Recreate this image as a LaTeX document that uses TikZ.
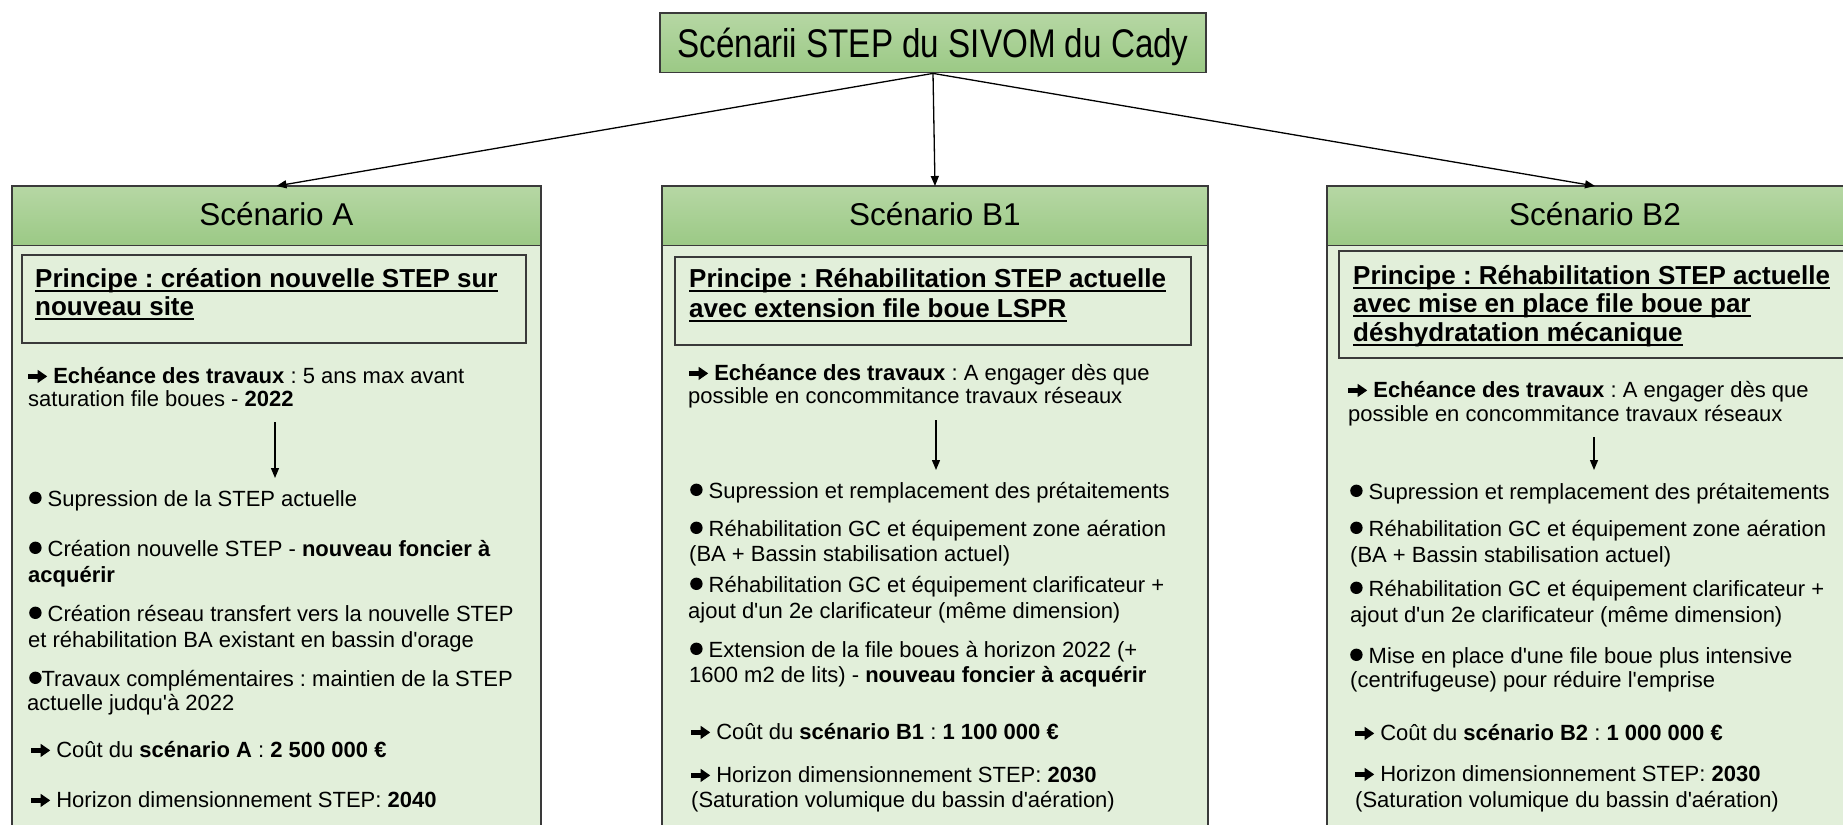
\documentclass[tikz,border=0pt]{standalone}
\usepackage{fontspec}
\setmainfont{Liberation Sans}
\newfontfamily\bodyf{Liberation Sans}
\newfontfamily\narrowf[FakeStretch=0.83]{Liberation Sans}
\usetikzlibrary{arrows.meta}
\definecolor{hdrtop}{HTML}{B6D7A4}
\definecolor{hdrbot}{HTML}{9BC985}
\definecolor{bodyc}{HTML}{E2EFDA}
\definecolor{bordc}{HTML}{3A3A3A}
\newcommand{\rarrow}{\tikz[x=1pt,y=1pt,baseline=0pt]\fill (0,4.2) -- (9.5,4.2) -- (9.5,0) -- (19,6.6) -- (9.5,13.2) -- (9.5,9) -- (0,9) -- cycle;}
\newcommand{\bul}{\tikz[x=1pt,y=1pt,baseline=0pt]\fill (6.2,8.2) circle (6.2);}
\newcommand{\prl}[3]{\node[prtext] (#1) at (#2) {#3};
  \draw[uline] ([yshift=-3.5pt]#1.base west) -- ([yshift=-3.5pt]#1.base east);}
\begin{document}
\frenchspacing
\begin{tikzpicture}[x=1pt,y=-1pt,
  panel/.style={draw=bordc, fill=bodyc, line width=1.4pt},
  hdrbox/.style={draw=bordc, line width=1.4pt, top color=hdrtop, bottom color=hdrbot, minimum height=59pt, inner sep=0pt, anchor=north},
  hdrtext/.style={anchor=base, inner sep=0pt, font=\bodyf\fontsize{31.5}{34}\selectfont},
  prbox/.style={draw=bordc, line width=1.4pt, fill=bodyc},
  prtext/.style={anchor=base west, inner sep=0pt, font=\bodyf\fontsize{26}{29}\selectfont\bfseries},
  ln/.style={anchor=base west, inner sep=0pt, font=\bodyf\fontsize{22}{25}\selectfont},
  conn/.style={line width=1.3pt, -{Triangle[length=10pt,width=8pt]}},
  uline/.style={line width=2pt}
]
\useasboundingbox (0,0) rectangle (1843,824);
\clip (0,0) rectangle (1843,824);
\fill[white] (0,0) rectangle (1843,824);

% panels
\draw[panel] (12,186) rectangle (541,900);
\draw[panel] (662,186) rectangle (1208,900);
\draw[panel] (1327,186) rectangle (1863,900);

% title and headers
\node[hdrbox, minimum width=546pt, minimum height=59.5pt] (T) at (933,12.5) {};
\node[anchor=base, inner sep=0pt, font=\narrowf\fontsize{40}{42}\selectfont] (Tt) at (933,58) {Scénarii STEP du SIVOM du Cady};

\node[hdrbox, minimum width=529pt] (hA) at (276.5,186) {};
\node[hdrtext] (tA) at (276.5,225) {Scénario A};
\node[hdrbox, minimum width=546pt] (hB1) at (935,186) {};
\node[hdrtext] (tB1) at (935,225) {Scénario B1};
\node[hdrbox, minimum width=536pt] (hB2) at (1595,186) {};
\node[hdrtext] (tB2) at (1595,225) {Scénario B2};

\draw[conn] (T.south) -- (hA.north);
\draw[conn] (T.south) -- (hB1.north);
\draw[conn] (T.south) -- (hB2.north);

% principe boxes
\draw[prbox] (22,255) rectangle (526,343);
\draw[prbox] (675,257) rectangle (1191,345);
\draw[prbox] (1339,251) rectangle (1870,358);

% ---------- Scenario A
\prl{pa1}{35,287}{Principe : création nouvelle STEP sur}
\prl{pa2}{35,315}{nouveau site}
\node[ln] (a1) at (28,383) {\rarrow\ \textbf{Echéance des travaux} : 5 ans max avant};
\node[ln] (a2) at (28,406) {saturation file boues - \textbf{2022}};
\coordinate (aS) at (275,422); \coordinate (aE) at (275,478);
\draw[conn] (aS) -- (aE);
\node[ln] (a3) at (29,506) {\bul\ Supression de la STEP actuelle};
\node[ln] (a4) at (29,556) {\bul\ Création nouvelle STEP - \textbf{nouveau foncier à}};
\node[ln] (a5) at (28,582) {\textbf{acquérir}};
\node[ln] (a6) at (29,621) {\bul\ Création réseau transfert vers la nouvelle STEP};
\node[ln] (a7) at (28,647) {et réhabilitation BA existant en bassin d'orage};
\node[ln] (a8) at (29,686) {\bul Travaux complémentaires : maintien de la STEP};
\node[ln] (a9) at (27,710) {actuelle judqu'à 2022};
\node[ln] (a10) at (31,757) {\rarrow\ Coût du \textbf{scénario A} : \textbf{2 500 000 €}};
\node[ln] (a11) at (31,807) {\rarrow\ Horizon dimensionnement STEP: \textbf{2040}};

% ---------- Scenario B1
\prl{pb1}{689,287}{Principe : Réhabilitation STEP actuelle}
\prl{pb2}{689,317}{avec extension file boue LSPR}
\node[ln] (b1) at (689,380) {\rarrow\ \textbf{Echéance des travaux} : A engager dès que};
\node[ln] (b2) at (688,403) {possible en concommitance travaux réseaux};
\coordinate (bS) at (936,420); \coordinate (bE) at (936,470);
\draw[conn] (bS) -- (bE);
\node[ln] (b3) at (690,498) {\bul\ Supression et remplacement des prétaitements};
\node[ln] (b4) at (690,536) {\bul\ Réhabilitation GC et équipement zone aération};
\node[ln] (b5) at (689,561) {(BA + Bassin stabilisation actuel)};
\node[ln] (b6) at (690,592) {\bul\ Réhabilitation GC et équipement clarificateur +};
\node[ln] (b7) at (688,618) {ajout d'un 2e clarificateur (même dimension)};
\node[ln] (b8) at (690,657) {\bul\ Extension de la file boues à horizon 2022 (+};
\node[ln] (b9) at (689,682) {1600 m2 de lits) - \textbf{nouveau foncier à acquérir}};
\node[ln] (b10) at (691,739) {\rarrow\ Coût du \textbf{scénario B1} : \textbf{1 100 000 €}};
\node[ln] (b11) at (691,782) {\rarrow\ Horizon dimensionnement STEP: \textbf{2030}};
\node[ln] (b12) at (691,807) {(Saturation volumique du bassin d'aération)};

% ---------- Scenario B2
\prl{pc1}{1353,284}{Principe : Réhabilitation STEP actuelle}
\prl{pc2}{1353,312}{avec mise en place file boue par}
\prl{pc3}{1353,341}{déshydratation mécanique}
\node[ln] (c1) at (1348,397) {\rarrow\ \textbf{Echéance des travaux} : A engager dès que};
\node[ln] (c2) at (1348,421) {possible en concommitance travaux réseaux};
\coordinate (cS) at (1594,437); \coordinate (cE) at (1594,470);
\draw[conn] (cS) -- (cE);
\node[ln] (c3) at (1350,499) {\bul\ Supression et remplacement des prétaitements};
\node[ln] (c4) at (1350,536) {\bul\ Réhabilitation GC et équipement zone aération};
\node[ln] (c5) at (1350,562) {(BA + Bassin stabilisation actuel)};
\node[ln] (c6) at (1350,596) {\bul\ Réhabilitation GC et équipement clarificateur +};
\node[ln] (c7) at (1350,622) {ajout d'un 2e clarificateur (même dimension)};
\node[ln] (c8) at (1350,663) {\bul\ Mise en place d'une file boue plus intensive};
\node[ln] (c9) at (1350,687) {(centrifugeuse) pour réduire l'emprise};
\node[ln] (c10) at (1355,740) {\rarrow\ Coût du \textbf{scénario B2} : \textbf{1 000 000 €}};
\node[ln] (c11) at (1355,781) {\rarrow\ Horizon dimensionnement STEP: \textbf{2030}};
\node[ln] (c12) at (1355,807) {(Saturation volumique du bassin d'aération)};
\end{tikzpicture}
\end{document}
